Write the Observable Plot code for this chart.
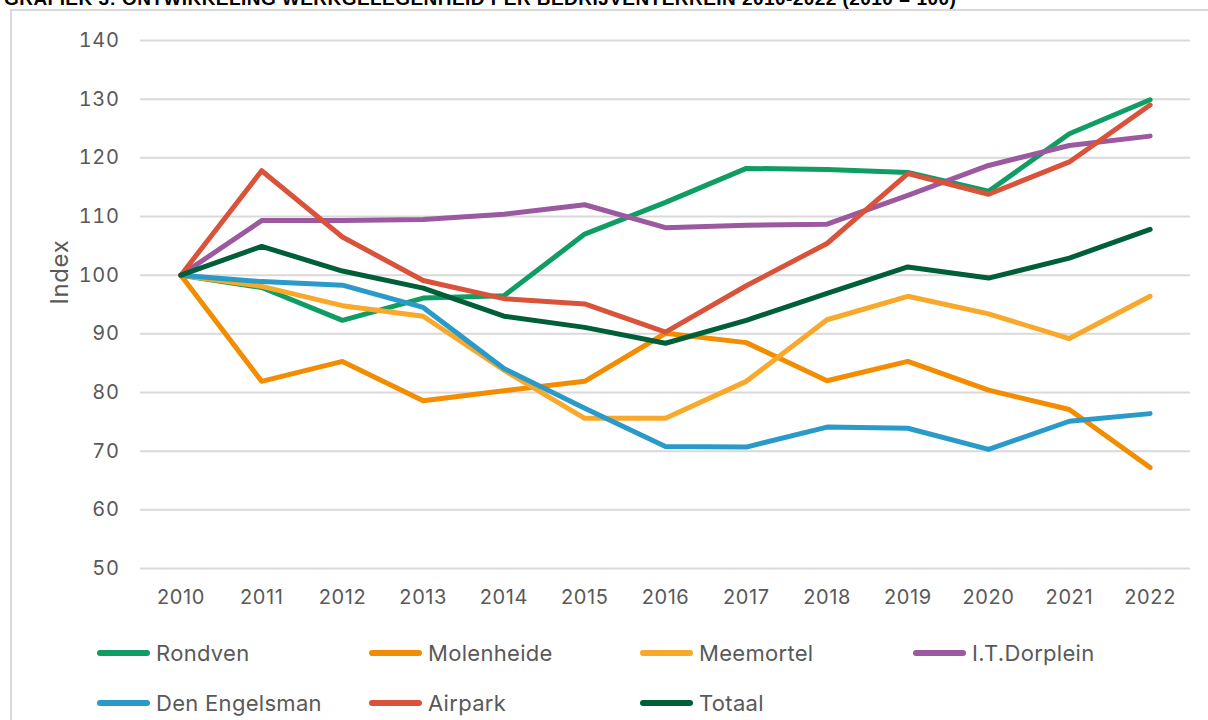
<!DOCTYPE html>
<html>
<head>
<meta charset="utf-8">
<script src="https://cdn.jsdelivr.net/npm/d3@7"></script>
<script src="https://cdn.jsdelivr.net/npm/@observablehq/plot@0.6"></script>
<style>
  html, body { margin: 0; padding: 0; background: #fff; width: 1208px; height: 720px; overflow: hidden; }
  #frame { position: absolute; left: 10px; top: 9px; width: 1300px; height: 800px; border: 2px solid #d9d9d9; box-sizing: border-box; }
  #title { position: absolute; left: 4px; top: -12px; font-family: "Liberation Sans", Arial, sans-serif; font-weight: bold; font-size: 19px; line-height: 22px; color: #000; white-space: nowrap; letter-spacing: 0.45px; }
  #chart { position: absolute; left: 0; top: 0; }
  #chart text { letter-spacing: 0.6px; }
  #legend { position: absolute; left: 0; top: 0; font-family: Inter, sans-serif; font-size: 22px; letter-spacing: 0.3px; color: #595959; }
  .item { position: absolute; display: flex; align-items: center; height: 30px; white-space: nowrap; }
  .sw { width: 53px; height: 6px; border-radius: 3px; margin-right: 6px; flex: none; }
</style>
</head>
<body>
<div id="frame"></div>
<div id="title">GRAFIEK 3: ONTWIKKELING WERKGELEGENHEID PER BEDRIJVENTERREIN 2010-2022 (2010 = 100)</div>
<div id="chart"></div>
<div id="legend"></div>
<script>
const years = [2010, 2011, 2012, 2013, 2014, 2015, 2016, 2017, 2018, 2019, 2020, 2021, 2022];
const seriesNames = ["Rondven", "Molenheide", "Meemortel", "I.T.Dorplein", "Den Engelsman", "Airpark", "Totaal"];
const seriesColors = ["#0f9d63", "#f28c00", "#f8a82a", "#9b59a0", "#2a9bc8", "#d8533a", "#005f38"];
const rondven      = [100, 97.9, 92.3, 96.1, 96.5, 107.0, 112.4, 118.2, 118.0, 117.5, 114.3, 124.1, 129.9];
const molenheide   = [100, 81.9, 85.3, 78.6, 80.3, 81.9, 90.1, 88.5, 82.0, 85.3, 80.4, 77.1, 67.2];
const meemortel    = [100, 98.1, 94.8, 93.0, 83.8, 75.6, 75.6, 81.9, 92.4, 96.4, 93.4, 89.2, 96.4];
const itDorplein   = [100, 109.3, 109.3, 109.5, 110.4, 112.0, 108.1, 108.5, 108.7, 113.6, 118.7, 122.1, 123.7];
const denEngelsman = [100, 98.9, 98.3, 94.5, 84.1, 77.3, 70.8, 70.7, 74.1, 73.9, 70.3, 75.1, 76.4];
const airpark      = [100, 117.8, 106.5, 99.1, 96.0, 95.1, 90.3, 98.2, 105.4, 117.3, 113.8, 119.3, 129.0];
const totaal       = [100, 104.9, 100.7, 97.8, 93.0, 91.1, 88.4, 92.3, 96.9, 101.4, 99.5, 102.9, 107.8];
const yTicks = [50, 60, 70, 80, 90, 100, 110, 120, 130, 140];

const seriesValues = [rondven, molenheide, meemortel, itDorplein, denEngelsman, airpark, totaal];
const data = [];
seriesNames.forEach((name, i) => {
  years.forEach((yr, j) => data.push({series: name, year: yr, value: seriesValues[i][j]}));
});

const chart = Plot.plot({
  width: 1208,
  height: 620,
  marginLeft: 140,
  marginRight: 18,
  marginTop: 40,
  marginBottom: 52,
  style: {fontFamily: "Inter, sans-serif", fontSize: "20px", color: "#595959", background: "transparent", overflow: "visible"},
  x: {type: "point", domain: years, padding: 0.5, round: false, tickSize: 0, tickPadding: 21, tickFormat: d => String(d), label: null},
  y: {domain: [50, 140], ticks: yTicks, tickSize: 0, tickPadding: 21, label: null},
  color: {domain: seriesNames, range: seriesColors},
  marks: [
    Plot.ruleY(yTicks, {stroke: "#d9d9d9", strokeWidth: 2}),
    Plot.line(data, {x: "year", y: "value", z: "series", stroke: "series", strokeWidth: 5, strokeLinejoin: "round", strokeLinecap: "round"}),
    Plot.text(["Index"], {frameAnchor: "left", dx: -80, rotate: -90, fontSize: 24, fill: "#595959"})
  ]
});
document.getElementById("chart").appendChild(chart);

const legend = document.getElementById("legend");
const colX = [97, 369, 640, 913];
const rowY = [638, 688];
seriesNames.forEach((name, i) => {
  const el = document.createElement("div");
  el.className = "item";
  el.style.left = colX[i % 4] + "px";
  el.style.top = rowY[Math.floor(i / 4)] + "px";
  const sw = document.createElement("div");
  sw.className = "sw";
  sw.style.background = seriesColors[i];
  const tx = document.createElement("span");
  tx.textContent = name;
  el.appendChild(sw);
  el.appendChild(tx);
  legend.appendChild(el);
});
</script>
</body>
</html>
